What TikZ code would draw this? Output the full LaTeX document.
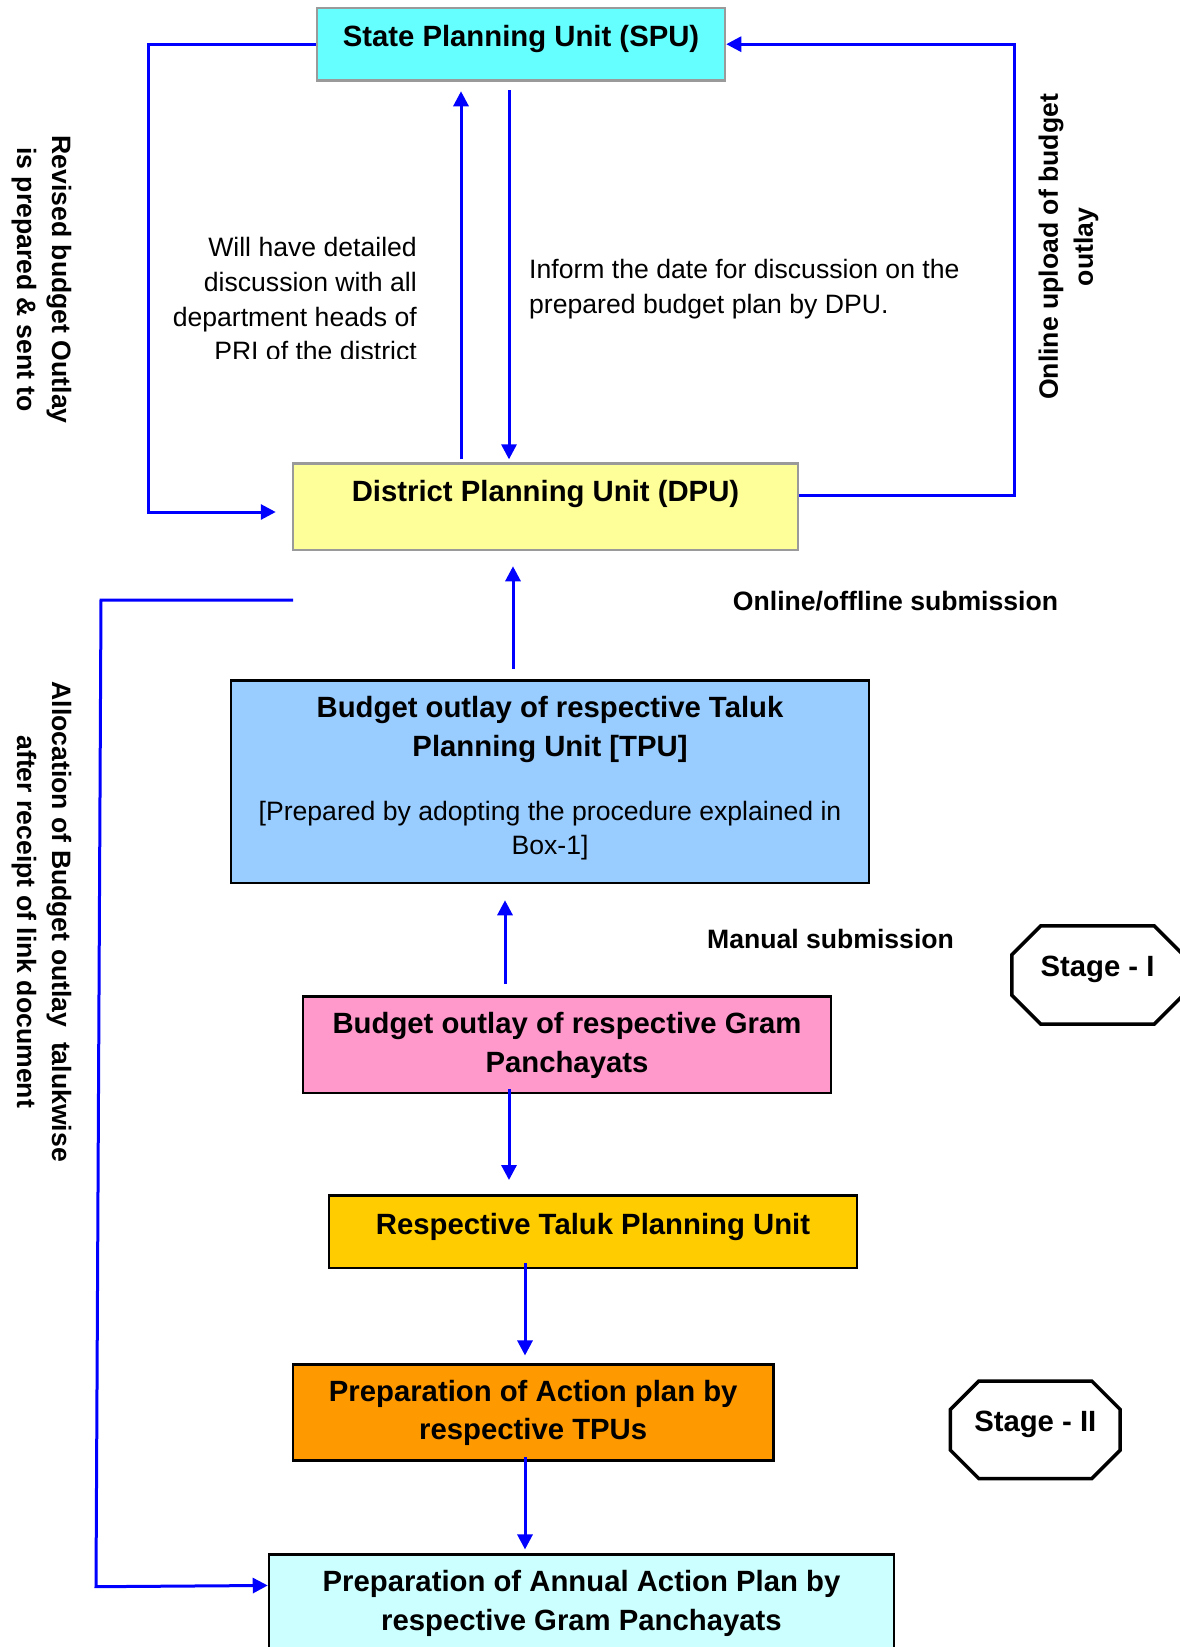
\documentclass[tikz,border=0pt]{standalone}
\usepackage{fontspec}
\setmainfont{Liberation Sans}
\usetikzlibrary{arrows.meta,calc}

\definecolor{spufill}{HTML}{66FFFF}
\definecolor{dpufill}{HTML}{FFFF99}
\definecolor{tpufill}{HTML}{99CCFF}
\definecolor{gpfill}{HTML}{FF99CC}
\definecolor{talukfill}{HTML}{FFCC00}
\definecolor{actionfill}{HTML}{FF9900}
\definecolor{annualfill}{HTML}{CCFFFF}
\definecolor{flowblue}{HTML}{0000FF}
\definecolor{boxgray}{HTML}{9A9A9A}

% font sizes (1pt = 1 output pixel)
\newcommand\fsReg{\fontsize{26.6pt}{34.8pt}\selectfont}
\newcommand\fsBold{\fontsize{26.6pt}{35pt}\selectfont\bfseries}
\newcommand\fsTitle{\fontsize{29.3pt}{39.3pt}\selectfont\bfseries}

\begin{document}
\begin{tikzpicture}[x=1pt, y=-1pt,
  box/.style={draw=black, line width=2.5pt, inner sep=0pt, align=flush center, anchor=base},
  flow/.style={draw=flowblue, line width=3pt},
  arr/.style={flow, -{Triangle[length=15pt,width=15pt]}},
  octo/.style={draw=black, line width=3.5pt, line join=miter},
  label/.style={inner sep=0pt}
]
\fill[white] (0,0) rectangle (1179,1647);
\useasboundingbox (0,0) rectangle (1179,1647);

% ---- upper part: state and district units ----
\node[box, fill=spufill, draw=boxgray, text width=408pt, text height=38.4pt,
      text depth=34pt, font=\fsTitle] (spu) at (521,46.4) {State Planning Unit (SPU)};
\node[box, fill=dpufill, draw=boxgray, text width=505pt, text height=37.4pt,
      text depth=49pt, font=\fsTitle] (dpu) at (545.5,501) {District Planning Unit (DPU)};

\begin{scope}
  \clip (140,220) rectangle (440,358.5);
  \node[label, anchor=north east, text width=260pt, align=flush right, font=\fsReg]
    (discuss) at (417,237) {Will have detailed\\ discussion with all\\ department heads of\\ PRI of the district};
\end{scope}

\node[label, anchor=north west, text width=440pt, align=flush left, font=\fsReg]
  (inform) at (529,259.2) {Inform the date for discussion on the\\ prepared budget plan by DPU.};

\node[label, rotate=90, align=flush center, font=\fsBold] (upload) at (1068.5,247)
  {Online upload of budget\\ outlay};
\node[label, rotate=-90, align=flush center, font=\fsBold] (revised) at (41.4,279.5)
  {Revised budget Outlay\\ is prepared \& sent to};

\draw[arr, shorten <=3pt, shorten >=9.6pt] (461,0 |- dpu.north) -- (461,0 |- spu.south);
\draw[arr, shorten <=8.6pt, shorten >=3pt] (509,0 |- spu.south) -- (509,0 |- dpu.north);
\draw[arr] (spu.west) -- (148,0 |- spu.west) |- ($(dpu.west)+(-16,5.2)$);
\draw[arr] ($(dpu.east)+(0,-11)$) -| (1014,0 |- spu.east) -- (spu.east);

% ---- taluk and gram panchayat stages ----
\node[label, anchor=base, font=\fsBold] (onlinesub) at (895.5,610) {Online/offline submission};

\node[box, fill=tpufill, text width=638pt, text height=36.6pt, text depth=166pt, font=\fsTitle]
  (tpu) at (550,717)
  {Budget outlay of respective Taluk\\ Planning Unit [TPU]\par\vspace{30.4pt}%
   {\fontsize{26.6pt}{33.9pt}\selectfont\mdseries [Prepared by adopting the procedure explained in\\ Box-1]\par}};

\node[label, anchor=base, font=\fsBold] (manualsub) at (830.5,948) {Manual submission};

\node[box, fill=gpfill, text width=528pt, text height=37pt, text depth=59.6pt, font=\fsTitle]
  (gp) at (567,1033.4) {Budget outlay of respective Gram\\ Panchayats};

\node[box, fill=talukfill, text width=528pt, text height=38.7pt, text depth=34.2pt, font=\fsTitle]
  (taluk) at (593,1234) {Respective Taluk Planning Unit};

\node[box, fill=actionfill, text width=480.7pt, text height=37pt, text depth=59pt,
      font={\fontsize{29.3pt}{37.3pt}\selectfont\bfseries}]
  (action) at (533.2,1401.7) {Preparation of Action plan by\\ respective TPUs};

\node[box, fill=annualfill, text width=625pt, text height=37.4pt, text depth=105pt,
      font={\fontsize{29.3pt}{38.3pt}\selectfont\bfseries}]
  (annual) at (581.5,1591.7) {Preparation of Annual Action Plan by\\ respective Gram Panchayats};

% stage markers (octagons around the labels)
\node[label, anchor=base, text width=171pt, align=flush center, text height=50.4pt, text depth=47.6pt,
      font=\fsTitle] (stage1) at (1097.5,976.4) {Stage - I};
\node[label, anchor=base, text width=169.3pt, align=flush center, text height=49.7pt, text depth=47.3pt,
      font=\fsTitle] (stage2) at (1035.3,1431) {Stage - II};
\foreach \s/\c in {stage1/29, stage2/28.3}{
  \draw[octo] ($(\s.north west)+(\c,0)$) -- ($(\s.north east)+(-\c,0)$)
    -- ($(\s.north east)+(0,\c)$) -- ($(\s.south east)+(0,-\c)$)
    -- ($(\s.south east)+(-\c,0)$) -- ($(\s.south west)+(\c,0)$)
    -- ($(\s.south west)+(0,-\c)$) -- ($(\s.north west)+(0,\c)$) -- cycle;
}

\node[label, rotate=-90, align=flush center, font=\fsBold] (alloc) at (41.4,921.7)
  {Allocation of Budget outlay\ \ talukwise\\ after receipt of link document};

% vertical flow
\draw[arr, shorten <=10.4pt, shorten >=15pt] (513,0 |- tpu.north) -- (513,0 |- dpu.south);
\draw[arr, shorten <=11.4pt, shorten >=16pt] (505,0 |- gp.north) -- (505,0 |- tpu.south);
\draw[arr, shorten <=-5pt, shorten >=14pt] (509,0 |- gp.south) -- (509,0 |- taluk.north);
\draw[arr, shorten <=-6pt, shorten >=8pt] (525,0 |- taluk.south) -- (525,0 |- action.north);
\draw[arr, shorten <=-4.7pt, shorten >=3.6pt] (525,0 |- action.south) -- (525,0 |- annual.north);

% allocation return path
\coordinate (allocstart) at (293,600);
\draw[arr] (allocstart) -- (101,600) -- (96,1586.7) -- ($(annual.north west)+(0,32.4)$);

\end{tikzpicture}
\end{document}
